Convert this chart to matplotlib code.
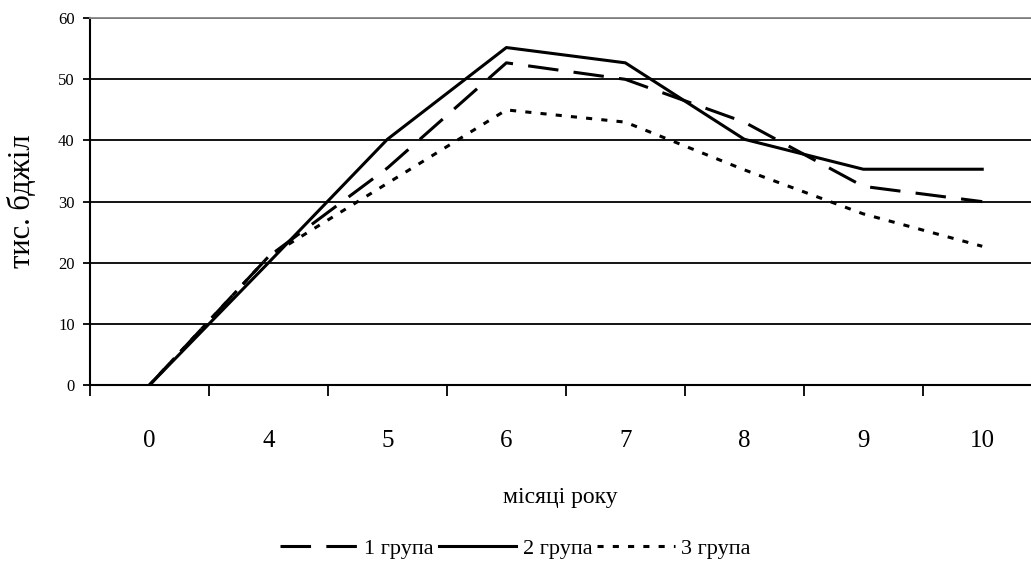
import matplotlib.pyplot as plt
from matplotlib.ticker import FixedLocator

plt.rcParams['font.family'] = ['Liberation Serif', 'DejaVu Serif']

# Bee colony strength by month, thousands of bees
months = ['0', '4', '5', '6', '7', '8', '9', '10']
group1 = [0, 21, 35.5, 52.7, 50, 43, 32.5, 30]
group2 = [0, 20, 40.2, 55.2, 52.7, 40.2, 35.3, 35.3]
group3 = [0, 21, 33, 45, 43, 35.2, 28, 22.7]

fig = plt.figure(figsize=(10.31, 5.87), dpi=100)
ax = fig.add_axes([0.0873, 0.344, 0.9127, 0.625])

x = range(len(months))
ax.plot(x, group1, color='black', lw=2.2, linestyle=(0, (10, 5)), label='1 група')
ax.plot(x, group2, color='black', lw=2.2, linestyle='-', label='2 група')
ax.plot(x, group3, color='black', lw=2.2, linestyle=(0, (2, 3)), label='3 група')

ax.set_ylim(0, 60)
ax.set_xlim(-0.5, 7.41)
ax.set_yticks(range(0, 61, 10))
ax.yaxis.grid(True, color='black', lw=1.3)
ax.set_axisbelow(True)

# category labels in the middle, tick marks on the boundaries
ax.set_xticks(list(x))
ax.set_xticklabels(months, fontsize=18)
ax.xaxis.set_minor_locator(FixedLocator([i - 0.5 for i in range(len(months))]))
ax.tick_params(axis='x', which='major', length=0, pad=32)
ax.tick_params(axis='x', which='minor', length=8, width=1.3, direction='out')
ax.tick_params(axis='y', labelsize=12, length=5, width=1.3, direction='out', pad=6)

ax.spines['right'].set_visible(False)
ax.spines['top'].set_color('#888888')
ax.spines['top'].set_linewidth(1.3)
ax.spines['left'].set_linewidth(1.5)
ax.spines['bottom'].set_linewidth(1.5)

ax.set_xlabel('місяці року', fontsize=17)
ax.xaxis.set_label_coords(0.5, -0.278)
ax.set_ylabel('тис. бджіл', fontsize=22)
ax.yaxis.set_label_coords(-0.056, 0.5)

fig.legend(loc='center', bbox_to_anchor=(0.5, 0.066), ncol=3, frameon=False,
           fontsize=16, handlelength=3.5, handletextpad=0.3, columnspacing=0.2)

fig.savefig('out.png', dpi=100)
